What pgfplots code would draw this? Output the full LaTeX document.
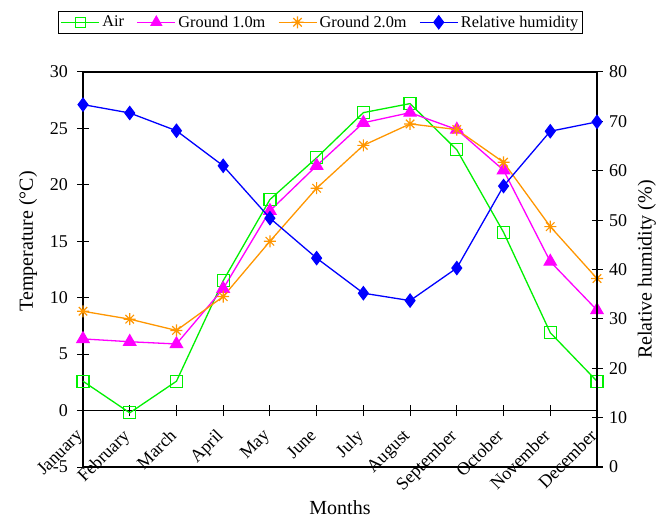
\documentclass[border=0pt]{standalone}
\usepackage{fontspec}
\setmainfont{Liberation Serif}
\usepackage{pgfplots}
\pgfplotsset{compat=1.18}
\definecolor{cair}{RGB}{0,240,0}
\definecolor{cgone}{RGB}{255,0,255}
\definecolor{cgtwo}{RGB}{255,150,0}
\definecolor{crh}{RGB}{0,0,255}
\pgfdeclareplotmark{star8}{%
 \pgfpathmoveto{\pgfqpoint{0pt}{\pgfplotmarksize}}\pgfpathlineto{\pgfqpoint{0pt}{-\pgfplotmarksize}}%
 \pgfpathmoveto{\pgfqpoint{\pgfplotmarksize}{0pt}}\pgfpathlineto{\pgfqpoint{-\pgfplotmarksize}{0pt}}%
 \pgfpathmoveto{\pgfqpoint{0.707\pgfplotmarksize}{0.707\pgfplotmarksize}}\pgfpathlineto{\pgfqpoint{-0.707\pgfplotmarksize}{-0.707\pgfplotmarksize}}%
 \pgfpathmoveto{\pgfqpoint{-0.707\pgfplotmarksize}{0.707\pgfplotmarksize}}\pgfpathlineto{\pgfqpoint{0.707\pgfplotmarksize}{-0.707\pgfplotmarksize}}%
 \pgfusepathqstroke}
\pgfplotstableread{
m air gone gtwo rh
0 2.6 6.35 8.8 73.4
1 -0.2 6.1 8.1 71.7
2 2.6 5.9 7.1 68.1
3 11.5 10.8 10.1 61.0
4 18.7 17.7 15.0 50.4
5 22.4 21.7 19.7 42.3
6 26.4 25.5 23.5 35.2
7 27.2 26.4 25.4 33.7
8 23.1 24.9 24.9 40.3
9 15.8 21.3 22.0 56.9
10 6.9 13.2 16.3 68.0
11 2.6 8.9 11.7 69.9
}\datatable
\newcommand{\fst}{\fontsize{18}{21}\selectfont}
\newcommand{\fsl}{\fontsize{20}{24}\selectfont}
\newcommand{\fsg}{\fontsize{16.3}{19}\selectfont}
\pgfplotsset{
 common/.style={
  at={(0,0)}, anchor=south west,
  scale only axis, width=514pt, height=395pt,
  xmin=0, xmax=11,
  tick align=center, major tick length=11pt,
  every tick/.style={black, line width=1pt},
  tick label style={font=\fst},
  label style={font=\fsl},
  /pgf/number format/assume math mode=true,
  clip=false,
  hide obscured x ticks=false, hide obscured y ticks=false,
 },
 ser/.style={line width=1.3pt, mark options={solid, line width=1.2pt}},
}
\begin{document}
\begin{tikzpicture}
\begin{axis}[common,
 ymin=-5, ymax=30,
 axis x line*=middle, axis y line*=left,
 x axis line style={line width=1.3pt},
 y axis line style={line width=1.6pt},
 xtick={0,...,11},
 xticklabels={January,February,March,April,May,June,July,August,September,October,November,December},
 xticklabel style={xshift=-8pt, yshift=-7pt, rotate=45, anchor=north east},
 ytick={-5,0,5,10,15,20,25,30},
 yticklabel style={xshift=-6pt},
 ylabel={Temperature (°C)},
 ylabel style={at={(axis description cs:-0.107,0.571)}, anchor=center, rotate=0},
 xlabel={Months},
 xlabel style={at={(axis description cs:0.5,-0.104)}, anchor=center},
]
\addplot[ser, color=cair, mark=square, mark size=6pt] table[x=m, y=air] {\datatable};
\addplot[ser, color=cgone, mark=triangle*, mark size=7pt] table[x=m, y=gone] {\datatable};
\addplot[ser, color=cgtwo, mark=star8, mark size=6pt] table[x=m, y=gtwo] {\datatable};
\end{axis}
\begin{axis}[common,
 ymin=0, ymax=80,
 axis x line*=box, axis y line*=right,
 x axis line style={line width=1.2pt},
 y axis line style={line width=1.4pt},
 xtick=\empty,
 ytick={0,10,...,80},
 yticklabel style={xshift=3pt},
 ylabel={Relative humidity (\%)},
 ylabel style={at={(axis description cs:1.097,0.5)}, anchor=center},
 legend columns=4,
 legend style={at={(axis description cs:-0.0486,1.155)}, anchor=north west,
   font=\fsg, draw=black, line width=1.2pt, inner sep=2pt,
   nodes={inner xsep=2.5pt, inner ysep=2.5pt},
   /tikz/every even column/.append style={column sep=10pt}},
 legend image code/.code={\draw[mark repeat=2, mark phase=2, #1, line width=1.3pt] plot coordinates {(0pt,0pt) (19pt,0pt) (38pt,0pt)};},
]
\addlegendimage{ser, color=cair, mark=square, mark size=5pt}
\addlegendentry{Air}
\addlegendimage{ser, color=cgone, mark=triangle*, mark size=6pt}
\addlegendentry{Ground 1.0m}
\addlegendimage{ser, color=cgtwo, mark=star8, mark size=6pt}
\addlegendentry{Ground 2.0m}
\addplot[ser, color=crh, mark=diamond*, mark size=6.5pt] table[x=m, y=rh] {\datatable};
\addlegendentry{Relative humidity}
\end{axis}
\pgfresetboundingbox
\path[use as bounding box] (-83pt,-52pt) rectangle (583pt,467pt);
\end{tikzpicture}
\end{document}
